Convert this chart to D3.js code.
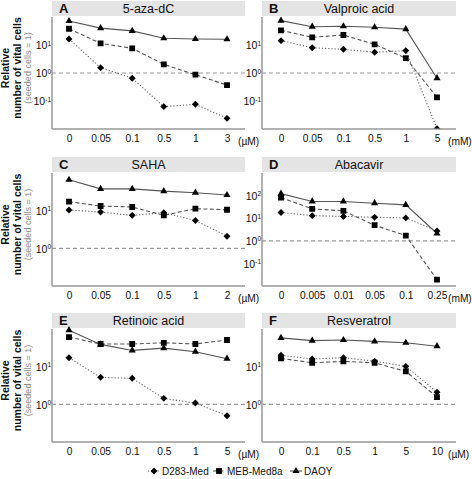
<!DOCTYPE html>
<html><head><meta charset="utf-8">
<script src="https://cdn.jsdelivr.net/npm/d3@7"></script>
<style>body{margin:0;background:#fff}svg{display:block;font-family:"Liberation Sans",Arial,sans-serif}</style>
</head><body><svg id="c" width="472" height="479"></svg>
<script>
// ---- data ----
const seriesNames = ["D283-Med", "MEB-Med8a", "DAOY"];

const titleA = "5-aza-dC", unitA = "(µM)";
const dosesA = ["0", "0.05", "0.1", "0.5", "1", "3"];
const d283A = [16.4, 1.55, 0.65, 0.063, 0.076, 0.024];
const mebA = [38, 11.5, 7.6, 2.04, 0.87, 0.37];
const daoyA = [72, 40, 32, 17.4, 16.3, 16];

const titleB = "Valproic acid", unitB = "(mM)";
const dosesB = ["0", "0.05", "0.1", "0.5", "1", "5"];
const d283B = [14.3, 8, 7, 5.5, 6.3, 0.0102];
const mebB = [33.4, 18.8, 22.7, 10.6, 3.4, 0.135];
const daoyB = [74, 45, 46.5, 43, 37, 0.65];

const titleC = "SAHA", unitC = "(µM)";
const dosesC = ["0", "0.05", "0.1", "0.5", "1", "2"];
const d283C = [10.4, 9.2, 7.5, 8.8, 5.5, 2.1];
const mebC = [17.3, 13.3, 12.5, 7.5, 11.3, 10.6];
const daoyC = [66, 38, 38, 33, 30, 26];

const titleD = "Abacavir", unitD = "(mM)";
const dosesD = ["0", "0.005", "0.01", "0.05", "0.1", "0.25"];
const d283D = [18, 13, 12, 11, 10.3, 2.7];
const mebD = [81, 26, 21, 4.9, 1.7, 0.019];
const daoyD = [122, 55, 55, 46, 39, 2.1];

const titleE = "Retinoic acid", unitE = "(µM)";
const dosesE = ["0", "0.05", "0.1", "0.5", "1", "5"];
const d283E = [17.3, 5.2, 4.9, 1.44, 1.08, 0.5];
const mebE = [61, 40, 40, 43, 40, 51];
const daoyE = [93, 39, 27, 31, 25, 16.3];

const titleF = "Resveratrol", unitF = "(µM)";
const dosesF = ["0", "0.1", "0.5", "1", "5", "10"];
const d283F = [20, 16, 17.3, 14, 10.2, 2.1];
const mebF = [16.6, 12.7, 13.8, 12.7, 7.5, 1.56];
const daoyF = [58, 49, 51, 47, 43, 35];

const yDomainAB = [1e-2, 1e2];
const yDomainCEF = [1e-1, 1e2];
const yDomainD = [1e-2, 1e3];

// ---- layout ----
const cols = [{ax: 52, right: 245, p0: 69, p1: 227}, {ax: 262, right: 456, p0: 281, p1: 437}];
const rows = [{h: 1, top: 17, bottom: 129}, {h: 157, top: 173, bottom: 286}, {h: 313, top: 329, bottom: 442}];

const panels = [
  {letter: "A", title: titleA, unit: unitA, doses: dosesA, vals: [d283A, mebA, daoyA], dom: yDomainAB, c: 0, r: 0},
  {letter: "B", title: titleB, unit: unitB, doses: dosesB, vals: [d283B, mebB, daoyB], dom: yDomainAB, c: 1, r: 0},
  {letter: "C", title: titleC, unit: unitC, doses: dosesC, vals: [d283C, mebC, daoyC], dom: yDomainCEF, c: 0, r: 1},
  {letter: "D", title: titleD, unit: unitD, doses: dosesD, vals: [d283D, mebD, daoyD], dom: yDomainD, c: 1, r: 1},
  {letter: "E", title: titleE, unit: unitE, doses: dosesE, vals: [d283E, mebE, daoyE], dom: yDomainCEF, c: 0, r: 2},
  {letter: "F", title: titleF, unit: unitF, doses: dosesF, vals: [d283F, mebF, daoyF], dom: yDomainCEF, c: 1, r: 2}
];

const styles = [
  {dash: "1.2,2", stroke: "#666", sym: "diamond"},
  {dash: "4,2.5", stroke: "#555", sym: "square"},
  {dash: null, stroke: "#555", sym: "triangle"}
];
const symPath = {
  diamond: d3.symbol().type(d3.symbolSquare).size(24)(),
  square: d3.symbol().type(d3.symbolSquare).size(34)(),
  triangle: d3.symbol().type(d3.symbolTriangle).size(22)()
};

const svg = d3.select("#c");
const defs = svg.append("defs");

panels.forEach((p, i) => {
  const col = cols[p.c], row = rows[p.r];
  const g = svg.append("g");
  const x = d3.scalePoint().domain(p.doses).range([col.p0, col.p1]);
  const y = d3.scaleLog().domain(p.dom).range([row.bottom, row.top]);

  // header
  g.append("rect").attr("x", col.ax).attr("y", row.h).attr("width", col.right - col.ax).attr("height", 15).attr("fill", "#e4e4e4");
  g.append("text").attr("x", col.ax + 7).attr("y", row.h + 12).attr("font-size", 13).attr("font-weight", "bold").attr("fill", "#111").text(p.letter);
  g.append("text").attr("x", (col.ax + col.right) / 2).attr("y", row.h + 12).attr("font-size", 12.5).attr("text-anchor", "middle").attr("fill", "#111").text(p.title);

  // reference line at 10^0
  g.append("line").attr("x1", col.ax).attr("x2", col.right).attr("y1", y(1)).attr("y2", y(1))
    .attr("stroke", "#9a9a9a").attr("stroke-width", 1.2).attr("stroke-dasharray", "4,3");

  // axes
  const xAxis = d3.axisBottom(x).tickSize(0).tickPadding(6);
  const xg = g.append("g").attr("transform", `translate(0,${row.bottom})`).call(xAxis);
  xg.select(".domain").attr("d", `M${col.ax},0H${col.right}`).attr("stroke", "#999").attr("stroke-width", 1.5);
  xg.selectAll("text").attr("font-size", 10.2).attr("fill", "#111").attr("font-family", "Liberation Sans, Arial, sans-serif");
  g.append("text").attr("x", col.p1 + 11).attr("y", row.bottom + 16).attr("font-size", 10.2).attr("fill", "#111").text(p.unit);

  const lo = Math.log10(p.dom[0]), hi = Math.log10(p.dom[1]);
  const tickVals = d3.range(lo + 1, hi).map(e => Math.pow(10, e));
  const yAxis = d3.axisLeft(y).tickValues(tickVals).tickSize(0).tickPadding(1).tickFormat(() => "");
  const yg = g.append("g").attr("transform", `translate(${col.ax},0)`).call(yAxis);
  yg.select(".domain").attr("d", `M0,${row.top}V${row.bottom}`).attr("stroke", "#999").attr("stroke-width", 1.5);
  yg.selectAll(".tick text").each(function(d) {
    const t = d3.select(this).attr("font-size", 10.5).attr("fill", "#111").attr("dy", "0.35em").attr("x", -1);
    t.append("tspan").text("10");
    t.append("tspan").attr("font-size", 6.5).attr("dy", "-0.55em").text(String(Math.round(Math.log10(d))));
  });

  // clip
  const cid = "clip" + i;
  defs.append("clipPath").attr("id", cid).append("rect")
    .attr("x", col.ax - 10).attr("y", row.h).attr("width", col.right - col.ax + 20).attr("height", row.bottom - row.h - 0.5);

  const line = d3.line().x((d, j) => x(p.doses[j])).y(d => y(d));
  const dg = g.append("g").attr("clip-path", `url(#${cid})`);
  [2, 1, 0].forEach(s => {
    const st = styles[s];
    dg.append("path").attr("d", line(p.vals[s])).attr("fill", "none").attr("stroke", st.stroke)
      .attr("stroke-width", 1.1).attr("stroke-dasharray", st.dash);
  });
  [2, 1, 0].forEach(s => {
    const st = styles[s];
    dg.selectAll(null).data(p.vals[s]).enter().append("path")
      .attr("d", symPath[st.sym]).attr("fill", "#000")
      .attr("transform", (d, j) => `translate(${x(p.doses[j])},${y(d)})` + (st.sym === "diamond" ? " rotate(45)" : ""));
  });
});

// y titles
rows.forEach(row => {
  const cy = (row.top + row.bottom) / 2 - 5;
  const t = svg.append("g");
  t.append("text").attr("transform", `translate(9,${cy}) rotate(-90)`).attr("text-anchor", "middle")
    .attr("font-size", 10.5).attr("font-weight", "bold").attr("fill", "#111").text("Relative");
  t.append("text").attr("transform", `translate(21,${cy}) rotate(-90)`).attr("text-anchor", "middle")
    .attr("font-size", 10.5).attr("font-weight", "bold").attr("fill", "#111").text("number of vital cells");
  t.append("text").attr("transform", `translate(30.5,${cy}) rotate(-90)`).attr("text-anchor", "middle")
    .attr("font-size", 9).attr("fill", "#8a8a8a").text("(seeded cells = 1)");
});

// legend
const legX = [148, 213, 290];
const legY = 471;
seriesNames.forEach((name, s) => {
  const st = styles[s];
  const lg = svg.append("g").attr("transform", `translate(${legX[s]},${legY})`);
  lg.append("line").attr("x1", 0).attr("x2", 12).attr("y1", 0).attr("y2", 0).attr("stroke", st.stroke)
    .attr("stroke-width", 1.1).attr("stroke-dasharray", st.dash);
  lg.append("path").attr("d", symPath[st.sym]).attr("fill", "#000")
    .attr("transform", "translate(6,0)" + (st.sym === "diamond" ? " rotate(45)" : ""));
  lg.append("text").attr("x", 14).attr("y", 3.6).attr("font-size", 10).attr("fill", "#111").text(name);
});
</script></body></html>
